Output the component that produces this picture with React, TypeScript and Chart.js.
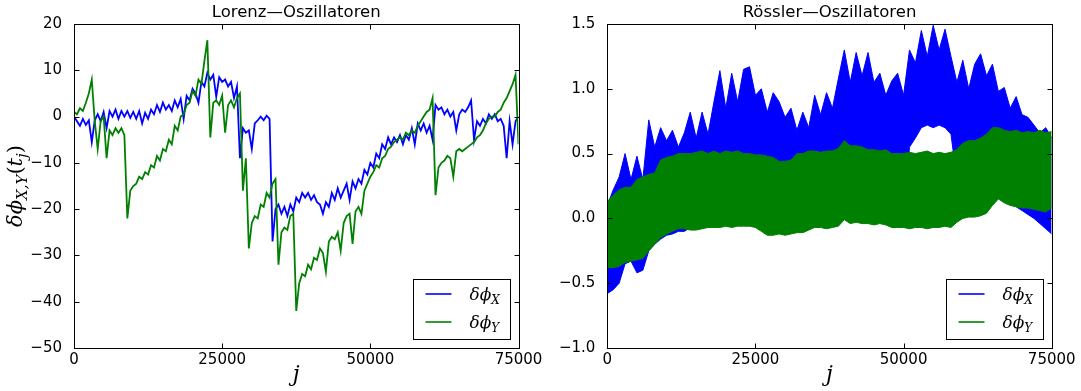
import React, { useEffect, useRef } from "react";
import { Chart, registerables } from "chart.js";

Chart.register(...registerables);

// spacing (in steps j) between stored samples of each record
const LORENZ_STEP = 500;
const ROSSLER_STEP = 1000;

const jTicks = [0, 25000, 50000, 75000];
const lorenzTicks = [-50, -40, -30, -20, -10, 0, 10, 20];
const rosslerTicks = [-1.0, -0.5, 0.0, 0.5, 1.0, 1.5];

// Lorenz: phase difference of X and Y components
const lorenzPhiX = [
  0, -1, -2, -0.5, -1.8, -0.8, -5.5, -0.8, 0.5, -1,
  1, -2.5, 1.2, 0, 1.5, -0.5, 1.2, 0, 1.2, -0.3,
  1, -0.5, 1.2, -1.5, 0.8, -0.5, 1.5, 0.5, 2.5, 1,
  3, 1.5, 2.5, 1.2, 3.5, 2, 3.8, -0.5, 4.5, 3.5,
  6, 5, 3, 7.5, 6.5, 9.5, 8, 9, 4.3, 8.5,
  7.5, 8, 6.5, 7.5, 4, 6.5, -9, -2.5, -3.5, -3,
  -7, -1.5, -0.8, 0, -0.8, 0.2, -0.5, -27, -20, -19,
  -21, -19.5, -21.5, -19, -20.5, -17.5, -18.5, -16.5, -17.5, -16.5,
  -18, -17, -18.5, -19, -21, -18.5, -19.5, -16.5, -18, -15.5,
  -17.5, -16, -14.5, -18, -14, -15.5, -13.5, -14.5, -11.5, -12.5,
  -10, -11, -8, -9, -6, -7, -4.5, -6, -4.5, -5.5,
  -4, -6, -4, -5, -2.5, -6, -1.5, -3, -1.5, -3.5,
  -2, -5, 2.5, 1.5, 2, 0.5, 1.5, 0, 1, -3,
  0.5, 1.5, 1, 2, 3.5, -5, -1, -2, -0.5, -1.5,
  0.5, -0.5, 0.5, -1, -0.5, -2, -9, -1, -6, -1,
  0,
];

const lorenzPhiY = [
  1, 0.5, 1.8, 1.2, 3, 5, 8, -1, -7, -1,
  0, -9, -3, -4, -2.5, -3.5, -2.5, -4, -22, -16,
  -15, -14.5, -13, -13.5, -12, -12.5, -10.5, -11, -8.5, -9.5,
  -7, -7.5, -5, -6, -2, -3, 0, 0.5, 2.5, 3,
  5.5, 4.5, 8, 7, 12, 16.5, -4.5, 3, 3.5, 2.5,
  4.5, -3.5, 2.5, 3.5, 2, 4, 5, -16, -9, -28.5,
  -23, -21.5, -22, -19, -19.5, -16.5, -17.5, -14.5, -13.5, -32,
  -25, -24, -24.5, -21.5, -21, -42, -36, -34, -34.5, -32,
  -33, -30.5, -31, -28.5, -29.5, -33.5, -27, -26, -26.5, -25,
  -29, -23, -21.5, -21, -27.5, -20.5, -19.5, -21, -16, -14.5,
  -13, -12, -10.5, -11, -9, -8.5, -7, -6.5, -5.5, -5,
  -4.5, -5, -3.5, -4, -3, -3.5, -2, -1, 0, 1,
  1.5, 4, -17, -11, -10, -9.5, -8.5, -9, -13, -7.5,
  -7, -7.5, -7, -6.5, -6, -5.5, -4.5, -4, -3, -1.5,
  -0.5, 0, 0, 1, 1.5, 3, 4, 5.5, 7, 9,
  -6,
];

// Rössler: upper / lower extent of the fast-oscillating phase differences
const rosslerPhiXHigh = [
  0.10, 0.22, 0.32, 0.50, 0.30, 0.48, 0.30, 0.76, 0.55, 0.70,
  0.60, 0.68, 0.55, 0.66, 0.82, 0.62, 0.82, 0.65, 0.90, 1.14,
  0.85, 1.12, 0.90, 1.15, 1.17, 0.95, 1.00, 0.82, 0.97, 0.90,
  0.78, 0.85, 0.68, 0.82, 0.70, 0.95, 0.80, 0.97, 0.85, 1.08,
  1.30, 1.05, 1.28, 1.10, 1.28, 1.05, 1.12, 0.95, 1.06, 1.12,
  0.95, 1.30, 1.20, 1.45, 1.25, 1.49, 1.30, 1.46, 1.25, 1.05,
  1.22, 1.00, 1.19, 1.27, 1.10, 1.19, 0.98, 1.01, 0.85, 0.94,
  0.80, 0.78, 0.72, 0.66, 0.70, 0.62,
];

const rosslerPhiXLow = [
  -0.58, -0.55, -0.50, -0.35, -0.33, -0.42, -0.40, -0.25, -0.20, -0.16,
  -0.13, -0.12, -0.10, -0.10, -0.07, -0.07, -0.06, -0.05, -0.05, -0.05,
  -0.04, -0.05, -0.04, -0.04, -0.04, -0.05, -0.08, -0.11, -0.11, -0.10,
  -0.11, -0.10, -0.09, -0.09, -0.07, -0.05, -0.05, -0.06, -0.05, -0.04,
  0.01, -0.02, -0.01, -0.02, -0.02, -0.03, -0.02, -0.03, -0.05, -0.05,
  -0.05, 0.55, 0.62, 0.70, 0.72, 0.70, 0.72, 0.70, 0.65, 0.30,
  0.03, 0.04, 0.04, 0.05, 0.07, 0.13, 0.18, 0.15, 0.13, 0.09,
  0.06, 0.03, 0.00, -0.04, -0.08, -0.12,
];

const rosslerPhiYHigh = [
  0.13, 0.18, 0.22, 0.24, 0.24, 0.30, 0.32, 0.34, 0.35, 0.45,
  0.47, 0.48, 0.50, 0.50, 0.50, 0.51, 0.52, 0.50, 0.52, 0.50,
  0.52, 0.51, 0.52, 0.50, 0.50, 0.49, 0.49, 0.48, 0.47, 0.44,
  0.44, 0.45, 0.50, 0.50, 0.52, 0.52, 0.51, 0.52, 0.52, 0.54,
  0.60, 0.56, 0.56, 0.55, 0.53, 0.53, 0.52, 0.53, 0.50, 0.50,
  0.50, 0.51, 0.50, 0.51, 0.52, 0.50, 0.51, 0.50, 0.51, 0.53,
  0.58, 0.60, 0.60, 0.62, 0.65, 0.70, 0.70, 0.68, 0.67, 0.68,
  0.66, 0.67, 0.66, 0.68, 0.66, 0.67,
];

const rosslerPhiYLow = [
  -0.38, -0.38, -0.37, -0.34, -0.33, -0.32, -0.31, -0.25, -0.20, -0.15,
  -0.12, -0.10, -0.08, -0.08, -0.09, -0.09, -0.08, -0.07, -0.07, -0.07,
  -0.06, -0.07, -0.06, -0.06, -0.06, -0.07, -0.10, -0.13, -0.13, -0.12,
  -0.13, -0.12, -0.11, -0.11, -0.09, -0.07, -0.07, -0.08, -0.07, -0.06,
  -0.01, -0.04, -0.03, -0.04, -0.04, -0.05, -0.04, -0.05, -0.07, -0.07,
  -0.07, -0.08, -0.07, -0.07, -0.08, -0.07, -0.07, -0.06, -0.07, -0.03,
  0.00, 0.01, 0.01, 0.02, 0.04, 0.10, 0.15, 0.12, 0.10, 0.09,
  0.08, 0.08, 0.07, 0.06, 0.05, 0.08,
];

const BLUE = "#0000ff";
const GREEN = "#008000";
const W = 1081;
const H = 391;
const TICK_LEN = 5;
const TICK_FONT = { family: "DejaVu Sans", size: 15 };
const PHI = "\u03b4\u03d5";

type Run = { t: string; size: number; dy?: number; upright?: boolean };

const toPoints = (vals: number[], step: number) =>
  vals.map((y, i) => ({ x: i * step, y }));

const fmtInt = (v: number) => (v < 0 ? "\u2212" + Math.abs(v) : String(v));
const fmtOne = (v: number) =>
  (v < 0 ? "\u2212" : "") + Math.abs(v).toFixed(1);

const runFont = (r: Run) =>
  `${r.upright ? "" : "italic "}${r.size}px "DejaVu Serif", "Liberation Serif", serif`;

function drawRuns(
  ctx: CanvasRenderingContext2D,
  runs: Run[],
  x: number,
  y: number,
  center: boolean
) {
  let w = 0;
  for (const r of runs) {
    ctx.font = runFont(r);
    w += ctx.measureText(r.t).width;
  }
  let cx = center ? x - w / 2 : x;
  for (const r of runs) {
    ctx.font = runFont(r);
    ctx.fillText(r.t, cx, y + (r.dy || 0));
    cx += ctx.measureText(r.t).width;
  }
}

const legendRuns = (sub: string): Run[] => [
  { t: PHI, size: 17 },
  { t: sub, size: 12, dy: 4 },
];

function decorPlugin(title: string, yTicks: number[], withYLabel: boolean) {
  return {
    id: "decor",
    afterDraw(chart: any) {
      const { ctx, chartArea: a, scales } = chart;
      const xs = scales.x;
      const ys = scales.y;
      ctx.save();
      ctx.strokeStyle = "#000";
      ctx.fillStyle = "#000";
      ctx.lineWidth = 1;

      // axes frame with inward tick marks on all four sides
      const L = Math.round(a.left) + 0.5;
      const R = Math.round(a.right) + 0.5;
      const T = Math.round(a.top) + 0.5;
      const B = Math.round(a.bottom) + 0.5;
      ctx.strokeRect(L, T, R - L, B - T);
      ctx.beginPath();
      for (const v of jTicks) {
        const px = Math.round(xs.getPixelForValue(v)) + 0.5;
        ctx.moveTo(px, B);
        ctx.lineTo(px, B - TICK_LEN);
        ctx.moveTo(px, T);
        ctx.lineTo(px, T + TICK_LEN);
      }
      for (const v of yTicks) {
        const py = Math.round(ys.getPixelForValue(v)) + 0.5;
        ctx.moveTo(L, py);
        ctx.lineTo(L + TICK_LEN, py);
        ctx.moveTo(R, py);
        ctx.lineTo(R - TICK_LEN, py);
      }
      ctx.stroke();

      const cx = (a.left + a.right) / 2;

      // title
      ctx.font = '16.5px "DejaVu Sans", sans-serif';
      ctx.textAlign = "center";
      ctx.textBaseline = "alphabetic";
      ctx.fillText(title, cx, 17);

      // axis labels
      ctx.textAlign = "left";
      drawRuns(ctx, [{ t: "j", size: 22 }], cx, 381, true);
      if (withYLabel) {
        const cy = (a.top + a.bottom) / 2;
        ctx.save();
        ctx.translate(22, cy);
        ctx.rotate(-Math.PI / 2);
        drawRuns(
          ctx,
          [
            { t: PHI, size: 21 },
            { t: "X,Y", size: 15, dy: 5 },
            { t: "(", size: 21, upright: true },
            { t: "t", size: 21 },
            { t: "j", size: 15, dy: 5 },
            { t: ")", size: 21, upright: true },
          ],
          0,
          0,
          true
        );
        ctx.restore();
      }

      // legend
      const bw = 97;
      const bh = 60;
      const bx = Math.round(a.right - 9 - bw) + 0.5;
      const by = Math.round(a.bottom - 9 - bh) + 0.5;
      ctx.fillStyle = "#fff";
      ctx.fillRect(bx, by, bw, bh);
      ctx.strokeStyle = "#000";
      ctx.lineWidth = 1;
      ctx.strokeRect(bx, by, bw, bh);
      const rows = [
        { color: BLUE, sub: "X", y: by + 14.5 },
        { color: GREEN, sub: "Y", y: by + 42.5 },
      ];
      for (const r of rows) {
        ctx.beginPath();
        ctx.strokeStyle = r.color;
        ctx.lineWidth = 1.6;
        ctx.moveTo(bx + 12, r.y);
        ctx.lineTo(bx + 38, r.y);
        ctx.stroke();
        ctx.fillStyle = "#000";
        drawRuns(ctx, legendRuns(r.sub), bx + 56, r.y + 6, false);
      }
      ctx.restore();
    },
  };
}

function panelOptions(
  yMin: number,
  yMax: number,
  yTicks: number[],
  fmtY: (v: number) => string,
  padLeft: number,
  yWidth: number,
  padRight: number
) {
  return {
    animation: false,
    responsive: false,
    maintainAspectRatio: false,
    devicePixelRatio: 1,
    events: [],
    layout: { padding: { left: padLeft, right: padRight, top: 24, bottom: 0 } },
    plugins: {
      legend: { display: false },
      tooltip: { enabled: false },
      title: { display: false },
    },
    elements: {
      point: { radius: 0 },
      line: { tension: 0, borderWidth: 1 },
    },
    scales: {
      x: {
        type: "linear",
        min: 0,
        max: 75000,
        grid: { display: false },
        border: { display: false },
        afterBuildTicks: (s: any) => {
          s.ticks = jTicks.map((v) => ({ value: v }));
        },
        ticks: {
          color: "#000",
          font: TICK_FONT,
          padding: -5,
          maxRotation: 0,
          autoSkip: false,
          callback: (v: any) => String(v),
        },
        afterFit: (s: any) => {
          s.height = 43;
          s.paddingLeft = 0;
          s.paddingRight = 0;
        },
      },
      y: {
        type: "linear",
        min: yMin,
        max: yMax,
        grid: { display: false },
        border: { display: false },
        afterBuildTicks: (s: any) => {
          s.ticks = yTicks.map((v) => ({ value: v }));
        },
        ticks: {
          color: "#000",
          font: TICK_FONT,
          padding: 4,
          autoSkip: false,
          callback: (v: any) => fmtY(Number(v)),
        },
        afterFit: (s: any) => {
          s.width = yWidth;
          s.paddingTop = 0;
          s.paddingBottom = 0;
        },
      },
    },
  };
}

export default function App() {
  const lorenzRef = useRef<HTMLCanvasElement | null>(null);
  const rosslerRef = useRef<HTMLCanvasElement | null>(null);

  useEffect(() => {
    const lorenz = new Chart(lorenzRef.current as HTMLCanvasElement, {
      type: "line",
      data: {
        datasets: [
          {
            label: PHI + "X",
            data: toPoints(lorenzPhiX, LORENZ_STEP),
            borderColor: BLUE,
            backgroundColor: BLUE,
            borderWidth: 1.8,
            fill: false,
            order: 2,
          },
          {
            label: PHI + "Y",
            data: toPoints(lorenzPhiY, LORENZ_STEP),
            borderColor: GREEN,
            backgroundColor: GREEN,
            borderWidth: 1.8,
            fill: false,
            order: 1,
          },
        ],
      },
      options: panelOptions(-50, 20, lorenzTicks, fmtInt, 0, 74, W - 518.5) as any,
      plugins: [decorPlugin("Lorenz\u2014Oszillatoren", lorenzTicks, true)],
    });

    const rossler = new Chart(rosslerRef.current as HTMLCanvasElement, {
      type: "line",
      data: {
        datasets: [
          {
            label: PHI + "X",
            data: toPoints(rosslerPhiXHigh, ROSSLER_STEP),
            borderColor: BLUE,
            backgroundColor: BLUE,
            fill: 1,
            order: 2,
          },
          {
            label: PHI + "X low",
            data: toPoints(rosslerPhiXLow, ROSSLER_STEP),
            borderColor: BLUE,
            backgroundColor: BLUE,
            fill: false,
            order: 2,
          },
          {
            label: PHI + "Y",
            data: toPoints(rosslerPhiYHigh, ROSSLER_STEP),
            borderColor: GREEN,
            backgroundColor: GREEN,
            fill: 3,
            order: 1,
          },
          {
            label: PHI + "Y low",
            data: toPoints(rosslerPhiYLow, ROSSLER_STEP),
            borderColor: GREEN,
            backgroundColor: GREEN,
            fill: false,
            order: 1,
          },
        ],
      },
      options: panelOptions(-1, 1.5, rosslerTicks, fmtOne, 540, 67.3, W - 1051.7) as any,
      plugins: [decorPlugin("R\u00f6ssler\u2014Oszillatoren", rosslerTicks, false)],
    });

    return () => {
      lorenz.destroy();
      rossler.destroy();
    };
  }, []);

  const canvasStyle: React.CSSProperties = {
    position: "absolute",
    left: 0,
    top: 0,
    width: W,
    height: H,
  };

  return (
    <div
      style={{
        position: "absolute",
        left: 0,
        top: 0,
        width: W,
        height: H,
        background: "#fff",
      }}
    >
      <canvas ref={lorenzRef} width={W} height={H} style={canvasStyle} />
      <canvas ref={rosslerRef} width={W} height={H} style={canvasStyle} />
    </div>
  );
}
